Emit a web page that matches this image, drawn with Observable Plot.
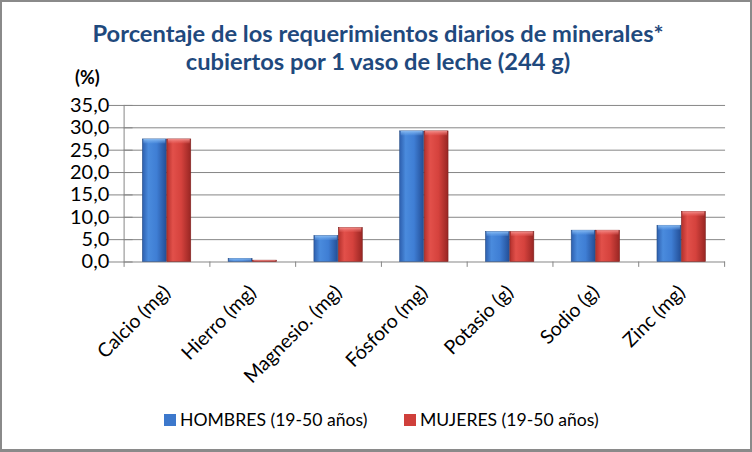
<!DOCTYPE html>
<html><head><meta charset="utf-8">
<script src="https://cdn.jsdelivr.net/npm/d3@7"></script>
<script src="https://cdn.jsdelivr.net/npm/@observablehq/plot@0.6"></script>
<style>
html,body{margin:0;padding:0;background:#fff;}
#wrap{position:relative;width:752px;height:452px;box-sizing:border-box;border:2px solid #8a8a8a;border-bottom-width:3px;overflow:hidden;font-family:Lato,"Open Sans",sans-serif;}
#title{position:absolute;left:0;top:17px;width:752px;text-align:center;color:#1F497D;font-weight:bold;font-size:23.7px;line-height:28px;}
#unit{position:absolute;left:73px;top:64px;font-weight:bold;font-size:18px;color:#000;}
#chart{position:absolute;left:-2px;top:81px;}
#legend{position:absolute;top:407px;left:0;width:752px;font-size:17.6px;color:#000;}
.li{position:absolute;display:flex;align-items:center;}
.sw{width:12px;height:12px;margin-right:4px;}
</style></head>
<body><div id="wrap">
<div id="title">Porcentaje de los requerimientos diarios de minerales*<br>cubiertos por 1 vaso de leche (244 g)</div>
<div id="unit">(%)</div>
<div id="chart"></div>
<div id="legend"></div>
</div>
<script>
const categories = ["Calcio (mg)","Hierro (mg)","Magnesio. (mg)","Fósforo (mg)","Potasio (g)","Sodio (g)","Zinc (mg)"];
const hombres = [27.4, 0.7, 5.8, 29.2, 6.7, 7.0, 8.1];
const mujeres = [27.4, 0.3, 7.6, 29.2, 6.7, 7.0, 11.2];
const seriesNames = ["HOMBRES (19-50 años)","MUJERES (19-50 años)"];
const yTicks = [0,5,10,15,20,25,30,35];

const W = 752, H = 312, mL = 124, mR = 25, mT = 22, mB = 133;
const step = (W - mL - mR) / categories.length;
const pad = 1 - 24.5 / step;
const tbl = categories.map((c,i)=>({cat:c, h:hombres[i], m:mujeres[i]}));
const fmt = d => d.toFixed(1).replace(".", ",");
const capH = 1.0; // bevel depth in value units

const plot = Plot.plot({
  width: W, height: H, marginLeft: mL, marginRight: mR, marginTop: mT, marginBottom: mB,
  style: {fontFamily: "Lato, 'Open Sans', sans-serif", fontSize: "17px", color: "#000", background: "transparent", overflow: "visible"},
  x: {domain: categories, padding: pad, paddingOuter: pad/2, label: null},
  y: {domain: [0, 35], label: null},
  marks: [
    Plot.ruleY(yTicks, {stroke: "#868686", strokeWidth: 1}),
    Plot.ruleX([0], {x: () => categories[0], dx: -step/2, stroke: "#868686"}),
    Plot.ruleX(categories, {x: d => d, dx: -step/2, y1: 0, y2: -1.2, stroke: "#868686"}),
    Plot.ruleX([categories[categories.length-1]], {x: d => d, dx: step/2, y1: 0, y2: -1.2, stroke: "#868686"}),
    Plot.tickY(yTicks, {x: () => categories[0], y: d => d, dx: -step/2 - 3, stroke: "#868686"}),
    Plot.barY(tbl, {x: "cat", y: "h", dx: -12.25, fill: "url(#gBlue)", stroke: "#2a4f85", strokeWidth: 0.6}),
    Plot.barY(tbl, {x: "cat", y: "m", dx: 12.25, fill: "url(#gRed)", stroke: "#7e2321", strokeWidth: 0.6}),
    Plot.barY(tbl, {x: "cat", y1: d => Math.max(0, d.h - capH), y2: "h", dx: -12.25, fill: "url(#cBlue)", insetLeft: 1, insetRight: 1}),
    Plot.barY(tbl, {x: "cat", y1: d => Math.max(0, d.m - capH), y2: "m", dx: 12.25, fill: "url(#cRed)", insetLeft: 1, insetRight: 1}),
    Plot.axisY(yTicks, {tickFormat: fmt, tickSize: 0, tickPadding: 15, fontSize: 20, fill: "#000"}),
    Plot.axisX({tickSize: 0, tickRotate: -45, tickPadding: 27, fontSize: 19.5, fill: "#000"})
  ]
});
// gradients
const defs = d3.select(plot).insert("defs", ":first-child");
function grad(id, stops, vertical){
  const g = defs.append("linearGradient").attr("id", id).attr("x1","0").attr("x2", vertical ? "0" : "1").attr("y1","0").attr("y2", vertical ? "1" : "0");
  stops.forEach(([o,c,a])=>g.append("stop").attr("offset",o).attr("stop-color",c).attr("stop-opacity", a == null ? 1 : a));
}
grad("gBlue", [["0%","#2D5FAE"],["25%","#4A8BDD"],["60%","#3F7ED4"],["100%","#234E96"]]);
grad("gRed", [["0%","#B3302C"],["25%","#E2504A"],["60%","#D5423D"],["100%","#982623"]]);
grad("cBlue", [["0%","#8EC0F5",0.95],["100%","#6AA6EC",0.2]], true);
grad("cRed", [["0%","#F59592",0.95],["100%","#EE6A66",0.2]], true);
document.getElementById("chart").appendChild(plot);

// legend
const lg = document.getElementById("legend");
const cols = ["#3C78CC","#CF3F3B"];
const lefts = [162, 402];
seriesNames.forEach((n,i)=>{
  const d = document.createElement("div"); d.className="li"; d.style.left = lefts[i]+"px";
  d.innerHTML = `<span class="sw" style="background:${cols[i]}"></span><span>${n}</span>`;
  lg.appendChild(d);
});
</script>
</body></html>
